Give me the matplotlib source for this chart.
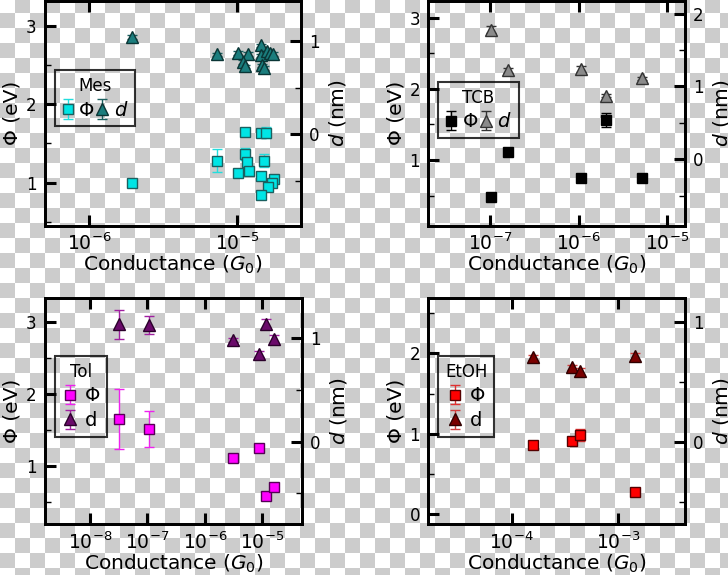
import numpy as np
import matplotlib
matplotlib.use('Agg')
import matplotlib.pyplot as plt
from matplotlib.ticker import MultipleLocator, LogLocator, NullLocator

# Mes
mes_x_phi = [1.94e-6, 7.36e-6, 1.13e-5, 1.45e-5, 1.57e-5, 1.13e-5, 1.16e-5, 1.02e-5,
             1.21e-5, 1.45e-5, 1.53e-5, 1.78e-5, 1.72e-5, 1.61e-5, 1.45e-5]
mes_phi = [0.99, 1.28, 1.645, 1.632, 1.637, 1.368, 1.26, 1.12,
           1.145, 1.09, 1.282, 1.047, 0.99, 0.94, 0.846]
mes_phi_err = [0.03, 0.15, 0.04, 0.05, 0.07, 0.08, 0.04, 0.03,
               0.03, 0.03, 0.08, 0.03, 0.03, 0.03, 0.03]
mes_x_d = [1.94e-6, 7.36e-6, 1.02e-5, 1.19e-5, 1.10e-5, 1.13e-5, 1.445e-5,
           1.445e-5, 1.59e-5, 1.67e-5, 1.76e-5, 1.47e-5, 1.51e-5]
mes_d = [1.046, 0.86, 0.874, 0.868, 0.777, 0.731, 0.957,
         0.849, 0.896, 0.874, 0.868, 0.742, 0.717]
mes_d_err = [0.02] * 13

# TCB
tcb_x = [1.02e-7, 1.61e-7, 1.06e-6, 2.04e-6, 5.2e-6]
tcb_phi = [0.487, 1.116, 0.753, 1.56, 0.753]
tcb_phi_err = [0.02, 0.02, 0.02, 0.1, 0.02]
tcb_d = [1.78, 1.22, 1.237, 0.87, 1.11]
tcb_d_err = [0.05, 0.03, 0.04, 0.02, 0.02]

# Tol
tol_x = [3.24e-8, 1.05e-7, 3.11e-6, 8.87e-6, 1.15e-5, 1.6e-5]
tol_phi = [1.647, 1.508, 1.103, 1.251, 0.582, 0.707]
tol_phi_err = [0.42, 0.25, 0.03, 0.03, 0.03, 0.03]
tol_d = [1.136, 1.13, 0.985, 0.846, 1.136, 0.99]
tol_d_err = [0.139, 0.09, 0.02, 0.03, 0.05, 0.04]

# EtOH
etoh_x = [1.585e-4, 3.66e-4, 4.4e-4, 1.44e-3]
etoh_phi = [0.861, 0.91, 0.985, 0.281]
etoh_phi_err = [0.03, 0.05, 0.08, 0.03]
etoh_d = [0.706, 0.622, 0.588, 0.714]
etoh_d_err = [0.02, 0.02, 0.03, 0.03]

W, H = 728, 575
fig = plt.figure(figsize=(W / 100, H / 100), dpi=100)

# transparent-look checkerboard behind everything
bg = fig.add_axes([0, 0, 1, 1], zorder=-10)
yy, xx = np.mgrid[0:H, 0:W]
checker = ((xx // 15) + ((yy + 2) // 15)) % 2
img = np.where(checker[..., None] == 1, 0.8, 1.0) * np.ones(3)
bg.imshow(img, extent=(0, W, H, 0), interpolation='nearest', aspect='auto')
bg.set_xlim(0, W)
bg.set_ylim(H, 0)
bg.axis('off')


def px_rect(left, top, right, bottom):
    return [left / W, 1 - bottom / H, (right - left) / W, (bottom - top) / H]


def style_axis(ax, side):
    for s in ax.spines.values():
        s.set_linewidth(2)
    ax.tick_params(which='major', direction='in', length=8, width=2.2, labelsize=12, pad=6)
    ax.tick_params(which='minor', direction='in', length=4, width=1)
    if side == 'left':
        ax.tick_params(which='both', top=True, right=False)
        ax.tick_params(axis='x', labelsize=13.5, pad=5)
    else:
        ax.tick_params(which='both', left=False)


def panel(rect, xlim, ylim_l, ylim_r, xp, phi, phi_err, xd, d, d_err,
          sq, tri, title, dlab, ncol, anchor):
    ax = fig.add_axes(rect)
    ax.patch.set_alpha(0)
    ax2 = ax.twinx()
    ax2.patch.set_alpha(0)
    h1 = ax.errorbar(xp, phi, yerr=phi_err, fmt='s', ms=7.7, mec=sq['ec'], mfc=sq['fc'],
                     mew=1, ecolor=sq['err'], elinewidth=1, capsize=3.5, label='Φ', zorder=3)
    h2 = ax2.errorbar(xd, d, yerr=d_err, fmt='^', ms=8, mec=tri['ec'], mfc=tri['fc'],
                      mew=1, ecolor=tri['err'], elinewidth=1, capsize=3.5, label=dlab, zorder=3)
    ax.set_xscale('log')
    ax.set_xlim(*xlim)
    ax.set_ylim(*ylim_l)
    ax2.set_ylim(*ylim_r)
    ax.xaxis.set_major_locator(LogLocator(base=10, numticks=20))
    ax.xaxis.set_minor_locator(NullLocator())
    ax.yaxis.set_major_locator(MultipleLocator(1))
    ax.yaxis.set_minor_locator(MultipleLocator(0.5))
    ax2.yaxis.set_major_locator(MultipleLocator(1))
    ax2.yaxis.set_minor_locator(MultipleLocator(0.5))
    style_axis(ax, 'left')
    style_axis(ax2, 'right')
    ax.set_xlabel('Conductance ($G_0$)', fontsize=14.5, labelpad=0)
    ax.set_ylabel('Φ (eV)', fontsize=14.5, labelpad=3)
    ax2.set_ylabel('$d$ (nm)', fontsize=14.5, labelpad=5)
    if ncol == 2:
        spacing = dict(handlelength=0.6, handletextpad=0.3, columnspacing=0.1)
    else:
        spacing = dict(handlelength=0.8, handletextpad=0.4, columnspacing=0.3)
    leg = ax2.legend([h1, h2], ['Φ', dlab], title=title, ncol=ncol, loc='upper left',
                     bbox_to_anchor=anchor, borderaxespad=0, fontsize=14,
                     title_fontsize=12, fancybox=False, borderpad=0.35,
                     labelspacing=0.3, frameon=True, **spacing)
    leg.get_frame().set_edgecolor('black')
    leg.get_frame().set_linewidth(1.5)
    leg.get_frame().set_facecolor('none')
    return ax


panel(px_rect(45, 0.5, 301, 225.5), (5.05e-7, 2.7e-5), (0.45, 3.33), (-0.978, 1.44),
      mes_x_phi, mes_phi, mes_phi_err, mes_x_d, mes_d, mes_d_err,
      dict(fc='#00e5e5', ec='#1a6060', err='#22dddd'),
      dict(fc='#1b7d7d', ec='#0a3535', err='#1b6060'),
      'Mes', '$d$', 2, (0.039, 0.691))

panel(px_rect(428.3, 0.5, 684.7, 225.5), (2.0e-8, 1.58e-5), (0.081, 3.24), (-0.91, 2.18),
      tcb_x, tcb_phi, tcb_phi_err, tcb_x, tcb_d, tcb_d_err,
      dict(fc='black', ec='black', err='black'),
      dict(fc='#8a8a8a', ec='#333333', err='#333333'),
      'TCB', '$d$', 2, (0.039, 0.639))

panel(px_rect(45, 298.3, 301.7, 524.3), (1.64e-9, 4.85e-5), (0.183, 3.335), (-0.80, 1.387),
      tol_x, tol_phi, tol_phi_err, tol_x, tol_d, tol_d_err,
      dict(fc='#ff00ff', ec='#550055', err='#ee22ee'),
      dict(fc='#6a0a6a', ec='#2a002a', err='#a020a0'),
      'Tol', 'd', 1, (0.039, 0.746))

panel(px_rect(428.3, 298.3, 684.7, 524.3), (1.64e-5, 4.24e-3), (-0.124, 2.683), (-0.69, 1.197),
      etoh_x, etoh_phi, etoh_phi_err, etoh_x, etoh_d, etoh_d_err,
      dict(fc='#ff0000', ec='#550000', err='#e03030'),
      dict(fc='#7a0000', ec='#300000', err='#d04040'),
      'EtOH', 'd', 1, (0.039, 0.746))

fig.savefig('out.png', dpi=100)
